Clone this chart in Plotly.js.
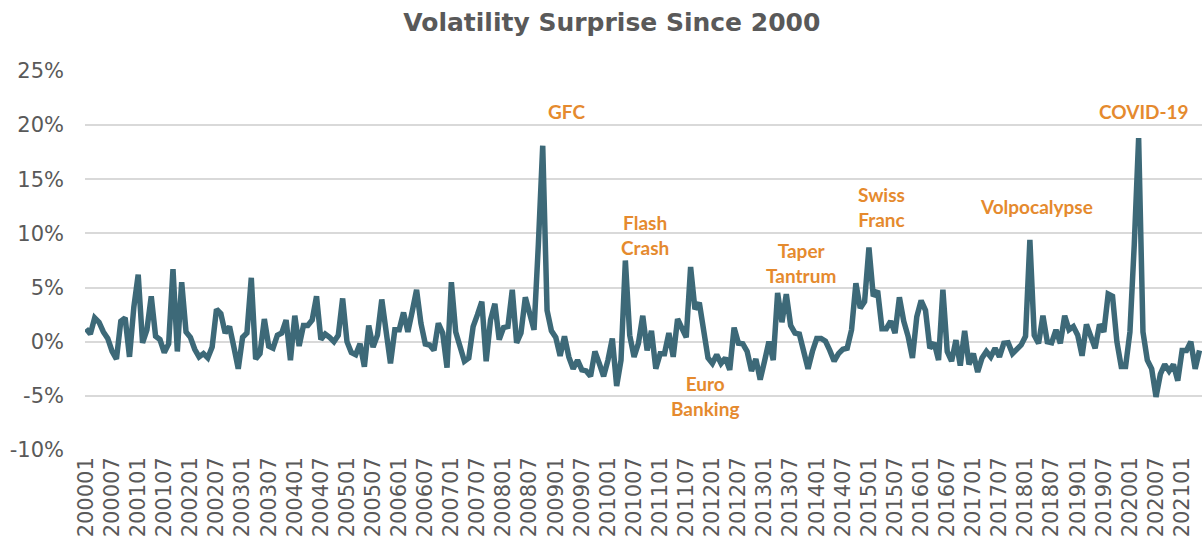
<!DOCTYPE html>
<html>
<head>
<meta charset="utf-8">
<script src="https://cdn.plot.ly/plotly-3.0.1.min.js"></script>
<style>html,body{margin:0;padding:0;background:#fff;}#chart{width:1202px;height:546px;}</style>
</head>
<body>
<div id="chart"></div>
<script>
// Monthly categories 200001 .. 202105
var startYear = 2000, endYear = 2021, endMonth = 5;
var categories = [];
for (var y = startYear; y <= endYear; y++) {
  for (var m = 1; m <= 12; m++) {
    if (y === endYear && m > endMonth) break;
    categories.push(String(y) + (m < 10 ? '0' + m : String(m)));
  }
}

// Volatility surprise (%)
var surprise = [
  1.2, 0.7, 2.2, 1.8, 0.9, 0.3, -0.9, -1.6, 1.9, 2.2, -1.4, 3.2,
  6.2, -0.1, 1.1, 4.2, 0.5, 0.2, -1.0, -0.2, 6.7, -0.9, 5.5, 0.9,
  0.4, -0.7, -1.4, -1.1, -1.5, -0.5, 3.0, 2.6, 0.8, 1.4, -0.5, -2.5,
  0.4, 0.8, 5.9, -1.6, -1.1, 2.1, -0.4, -0.6, 0.6, 0.8, 2.0, -1.7,
  2.4, -0.4, 1.5, 1.5, 2.0, 4.2, 0.2, 0.7, 0.4, 0.0, 0.6, 4.0,
  0.0, -1.0, -1.2, -0.2, -2.3, 1.5, -0.5, 0.6, 3.9, 0.8, -2.0, 1.1,
  1.1, 2.7, 0.9, 2.8, 4.8, 1.7, -0.2, -0.3, -0.8, 1.7, 0.8, -2.4,
  5.5, 0.9, -0.3, -1.8, -1.5, 1.4, 2.5, 3.7, -1.8, 2.0, 3.5, 0.2,
  1.3, 1.4, 4.8, -0.1, 0.8, 4.1, 2.6, 1.1, 9.0, 18.1, 2.9, 1.0,
  0.4, -1.3, 0.5, -1.4, -2.5, -1.7, -2.6, -2.7, -3.2, -0.9, -2.0, -3.2,
  -1.7, 0.3, -4.1, -1.7, 7.5, 0.6, -1.4, -0.15, 2.4, -0.8, 1.0, -2.5,
  -1.1, -1.1, 0.8, -1.4, 2.1, 1.3, 0.4, 6.9, 3.0, 3.6, 1.1, -1.5,
  -2.0, -1.2, -2.0, -1.5, -2.6, 1.3, -0.15, -0.2, -0.9, -2.7, -1.6, -3.5,
  -1.8, 0.0, -1.7, 4.5, 1.8, 4.4, 1.5, 0.8, 0.7, -1.2, -2.5, -0.9,
  0.3, 0.3, 0.05, -0.8, -1.8, -1.1, -0.7, -0.6, 1.1, 5.4, 3.1, 3.7,
  8.7, 4.2, 4.7, 1.2, 1.2, 1.9, 0.8, 4.1, 1.9, 0.5, -1.5, 2.3,
  3.8, 2.9, -0.6, -0.1, -1.7, 4.8, -0.9, -1.8, 0.15, -2.2, 1.0, -2.1,
  -1.1, -2.8, -1.5, -0.9, -1.4, -0.6, -1.4, -0.15, -0.1, -1.1, -0.6, -0.3,
  0.5, 9.4, 0.6, -0.15, 2.4, 0.0, -0.1, 1.1, -0.15, 2.4, 1.1, 1.4,
  0.6, -1.3, 1.6, 0.3, -0.6, 1.6, 0.9, 4.4, 4.2, 0.0, -2.3, -2.3,
  0.9, 9.0, 18.8, 0.9, -1.7, -2.5, -5.1, -3.0, -2.1, -2.7, -2.1, -3.6,
  -0.8, -0.8, 0.0, -2.5, -0.8
];

// X tick labels (every six months)
var xTickLabels = [
  '200001','200007','200101','200107','200201','200207','200301','200307',
  '200401','200407','200501','200507','200601','200607','200701','200707',
  '200801','200807','200901','200907','201001','201007','201101','201107',
  '201201','201207','201301','201307','201401','201407','201501','201507',
  '201601','201607','201701','201707','201801','201807','201901','201907',
  '202001','202007','202101'
];

// Y ticks
var yTickVals = [-10, -5, 0, 5, 10, 15, 20, 25];
var yTickText = ['-10%', '-5%', '0%', '5%', '10%', '15%', '20%', '25%'];

// Event labels
var eventText = ['GFC', 'Flash<br>Crash', 'Euro<br>Banking', 'Taper<br>Tantrum', 'Swiss<br>Franc', 'Volpocalypse', 'COVID-19'];
var eventX = [110.4, 128.6, 142.3, 164.4, 182.8, 218.6, 243.3];
var eventY = [21.3, 9.9, -4.97, 7.27, 12.4, 12.45, 21.3];

var trace = {
  x: categories,
  y: surprise,
  type: 'scatter',
  mode: 'lines',
  line: {color: '#3D6978', width: 5.5, shape: 'linear'},
  hoverinfo: 'x+y'
};

var annotations = eventText.map(function (t, k) {
  return {
    text: t, x: eventX[k], y: eventY[k], xref: 'x', yref: 'y',
    showarrow: false, xanchor: 'center', yanchor: 'middle', align: 'center',
    font: {family: 'Lato, "Open Sans", sans-serif', size: 19, color: '#E58A2E', weight: 'bold'}
  };
});

var layout = {
  width: 1202, height: 546,
  margin: {l: 85, r: 0, t: 71, b: 96, pad: 0},
  paper_bgcolor: '#ffffff', plot_bgcolor: '#ffffff',
  showlegend: false,
  title: {
    text: '<b>Volatility Surprise Since 2000</b>',
    x: 0.509, xref: 'container', xanchor: 'center',
    y: 1 - 22 / 546, yref: 'container', yanchor: 'middle',
    font: {family: '"DejaVu Sans", Verdana, sans-serif', size: 25, color: '#595959'}
  },
  xaxis: {
    type: 'category',
    range: [-0.23, categories.length - 1 + 0.57],
    tickmode: 'array', tickvals: xTickLabels, ticktext: xTickLabels,
    tickangle: -90, showgrid: false, zeroline: false, showline: false,
    ticks: '', ticklabelstandoff: 2,
    tickfont: {family: '"DejaVu Sans", Verdana, sans-serif', size: 21, color: '#595959'}
  },
  yaxis: {
    range: [-10, 25],
    tickmode: 'array', tickvals: yTickVals, ticktext: yTickText,
    showgrid: true, gridcolor: '#D9D9D9', gridwidth: 2,
    zeroline: false, showline: false, ticks: '', ticklabelstandoff: 20,
    tickfont: {family: '"DejaVu Sans", Verdana, sans-serif', size: 21, color: '#595959'}
  },
  annotations: annotations
};

Plotly.newPlot('chart', [trace], layout, {displayModeBar: false, staticPlot: true});
</script>
</body>
</html>
